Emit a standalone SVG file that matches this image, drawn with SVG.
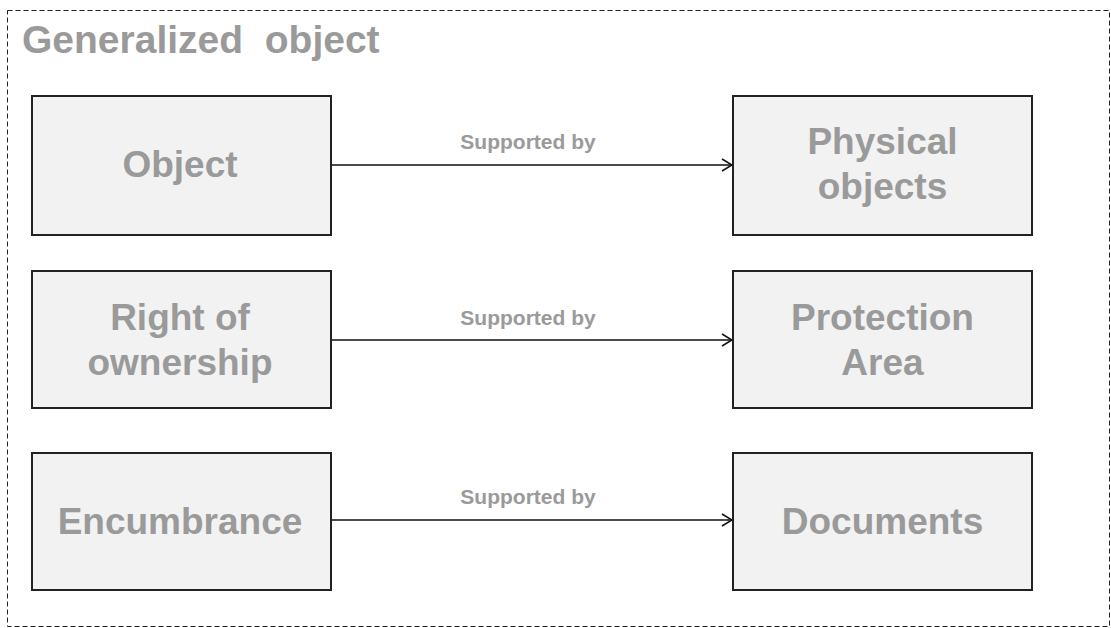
<svg xmlns="http://www.w3.org/2000/svg" width="1111" height="628" viewBox="0 0 1111 628">
  <style>
    .frame { fill: none; stroke: #222; stroke-width: 1; stroke-dasharray: 5 3; }
    .box { fill: #f2f2f2; stroke: #222; stroke-width: 2; }
    .title { font-family: "Liberation Sans", Arial, sans-serif; font-size: 39px; font-weight: bold; fill: #9a9a9a; white-space: pre; }
    .node-text { font-family: "Liberation Sans", Arial, sans-serif; font-size: 37px; font-weight: bold; fill: #9a9a9a; text-anchor: middle; }
    .edge { stroke: #111; stroke-width: 1.5; fill: none; }
    .edge-label { font-family: "Liberation Sans", Arial, sans-serif; font-size: 21px; font-weight: bold; fill: #9a9a9a; text-anchor: middle; }
  </style>
  <defs>
    <marker id="open-arrow" viewBox="0 0 12 14" refX="11" refY="7" markerWidth="12" markerHeight="14" markerUnits="userSpaceOnUse" orient="auto">
      <path d="M1,1 L11,7 L1,13" fill="none" stroke="#111" stroke-width="1.5"/>
    </marker>
  </defs>

  <rect width="1111" height="628" fill="#fff"/>

  <!-- container frame -->
  <g id="container">
    <rect class="frame" x="7.5" y="10.5" width="1102" height="616"/>
    <text class="title" x="22" y="53">Generalized  object</text>
  </g>

  <!-- connectors -->
  <g id="connectors">
    <line class="edge" x1="331" y1="165" x2="732" y2="165" marker-end="url(#open-arrow)"/>
    <text class="edge-label" x="528" y="149">Supported by</text>
    <line class="edge" x1="331" y1="340" x2="732" y2="340" marker-end="url(#open-arrow)"/>
    <text class="edge-label" x="528" y="325">Supported by</text>
    <line class="edge" x1="331" y1="520" x2="732" y2="520" marker-end="url(#open-arrow)"/>
    <text class="edge-label" x="528" y="504">Supported by</text>
  </g>

  <g id="object">
    <rect class="box" x="32" y="96" width="299" height="139"/>
    <text class="node-text" x="180" y="177">Object</text>
  </g>
  <g id="physical-objects">
    <rect class="box" x="733" y="96" width="299" height="139"/>
    <text class="node-text" x="882.5" y="154">Physical</text>
    <text class="node-text" x="882.5" y="199">objects</text>
  </g>
  <g id="right-of-ownership">
    <rect class="box" x="32" y="271" width="299" height="137"/>
    <text class="node-text" x="180" y="330">Right of</text>
    <text class="node-text" x="180" y="375">ownership</text>
  </g>
  <g id="protection-area">
    <rect class="box" x="733" y="271" width="299" height="137"/>
    <text class="node-text" x="882.5" y="330">Protection</text>
    <text class="node-text" x="882.5" y="375">Area</text>
  </g>
  <g id="encumbrance">
    <rect class="box" x="32" y="453" width="299" height="137"/>
    <text class="node-text" x="180" y="534">Encumbrance</text>
  </g>
  <g id="documents">
    <rect class="box" x="733" y="453" width="299" height="137"/>
    <text class="node-text" x="882.5" y="534">Documents</text>
  </g>
</svg>
